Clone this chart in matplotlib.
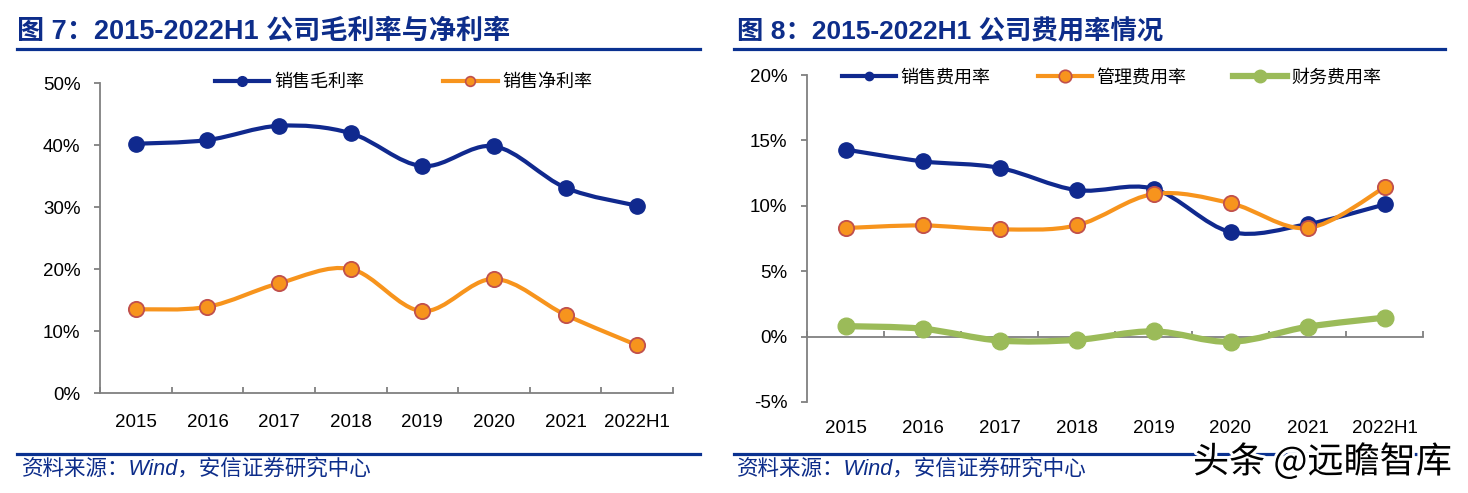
import numpy as np
import matplotlib
matplotlib.use("Agg")
import matplotlib.pyplot as plt
from matplotlib.path import Path
from matplotlib.patches import PathPatch
from matplotlib.lines import Line2D
import matplotlib.patheffects as pe

plt.rcParams['font.family'] = ['Liberation Sans', 'Noto Sans CJK SC', 'DejaVu Sans']

# ===== 数据 =====
years = ['2015', '2016', '2017', '2018', '2019', '2020', '2021', '2022H1']

gross_margin = [40.2, 40.8, 43.1, 41.9, 36.6, 39.8, 33.1, 30.2]   # 销售毛利率 %
net_margin = [13.5, 13.9, 17.7, 20.0, 13.2, 18.4, 12.6, 7.7]      # 销售净利率 %

sales_exp = [14.3, 13.4, 12.9, 11.2, 11.3, 8.0, 8.6, 10.1]        # 销售费用率 %
admin_exp = [8.3, 8.5, 8.2, 8.5, 10.9, 10.2, 8.3, 11.4]           # 管理费用率 %
fin_exp = [0.8, 0.6, -0.3, -0.25, 0.4, -0.4, 0.75, 1.45]          # 财务费用率 %

BLUE = '#10298e'
ORANGE = '#f7941d'
EDGE = '#c0504d'
GREEN = '#9bbb59'
GRAY = '#808080'
TITLE_BLUE = '#0d2d8a'
CJK = ['Noto Sans CJK SC']

W, H = 1468, 493
fig = plt.figure(figsize=(W / 100, H / 100), dpi=100)


def fbox(x0, y0, x1, y1):
    # pixel box -> figure fraction
    return [x0 / W, 1 - y1 / H, (x1 - x0) / W, (y1 - y0) / H]


def smooth_line(ax, x, y, color, lw):
    # curva suavizada tipo Excel (Bezier cúbica, tensión 1/6)
    x = np.asarray(x, float)
    y = np.asarray(y, float)
    n = len(x)
    verts = [(x[0], y[0])]
    codes = [Path.MOVETO]
    for i in range(n - 1):
        xp, yp = (x[i - 1], y[i - 1]) if i > 0 else (x[i], y[i])
        xn, yn = (x[i + 2], y[i + 2]) if i + 2 < n else (x[i + 1], y[i + 1])
        c1 = (x[i] + (x[i + 1] - xp) / 6, y[i] + (y[i + 1] - yp) / 6)
        c2 = (x[i + 1] - (xn - x[i]) / 6, y[i + 1] - (yn - y[i]) / 6)
        verts += [c1, c2, (x[i + 1], y[i + 1])]
        codes += [Path.CURVE4] * 3
    ax.add_patch(PathPatch(Path(verts, codes), fill=False, edgecolor=color,
                           lw=lw, capstyle='round', joinstyle='round', zorder=2))


def style_axes(ax, ylim, yticks):
    ax.set_xlim(-0.5, len(years) - 0.5)
    ax.set_ylim(*ylim)
    ax.set_yticks(yticks)
    ax.set_yticklabels([f'{t}%' for t in yticks])
    ax.spines['top'].set_visible(False)
    ax.spines['right'].set_visible(False)
    ax.spines['left'].set_color(GRAY)
    ax.spines['left'].set_linewidth(1.3)
    ax.tick_params(axis='y', length=4, color=GRAY, width=1.3, labelsize=13.5, pad=10)
    ax.set_xticks(range(len(years)))
    ax.set_xticklabels(years)
    ax.tick_params(axis='x', which='major', length=0, labelsize=13.5)


# ===== 图 7 =====
ax1 = fig.add_axes(fbox(100, 83, 673, 393))
style_axes(ax1, (0, 50), [0, 10, 20, 30, 40, 50])
ax1.spines['bottom'].set_color(GRAY)
ax1.spines['bottom'].set_linewidth(1.3)
ax1.set_xticks(np.arange(-0.5, len(years)), minor=True)
ax1.tick_params(axis='x', which='minor', direction='in', length=4, color=GRAY, width=1.3)
ax1.tick_params(axis='x', which='major', pad=15)

xi = np.arange(len(years))
smooth_line(ax1, xi, gross_margin, BLUE, 3)
ax1.plot(xi, gross_margin, 'o', color=BLUE, ms=11, zorder=3)
smooth_line(ax1, xi, net_margin, ORANGE, 3)
ax1.plot(xi, net_margin, 'o', color=ORANGE, mec=EDGE, mew=1.3, ms=11, zorder=3)

h1 = [Line2D([], [], color=BLUE, lw=3, marker='o', ms=7),
      Line2D([], [], color=ORANGE, lw=3, marker='o', ms=7, mec=EDGE, mew=1.2)]
ax1.legend(h1, ['销售毛利率', '销售净利率'], loc='upper center', bbox_to_anchor=(0.53, 1.085),
           ncol=2, frameon=False, handlelength=3.0, handletextpad=0.25,
           columnspacing=4.4, prop={'family': CJK, 'size': 13})

# ===== 图 8 =====
ax2 = fig.add_axes(fbox(807, 75, 1423, 402))
style_axes(ax2, (-5, 20), [-5, 0, 5, 10, 15, 20])
ax2.spines['bottom'].set_visible(False)
ax2.tick_params(axis='x', which='major', pad=13)
zero = ax2.secondary_xaxis(0.2)
zero.set_xticks(np.arange(-0.5, len(years)))
zero.set_xticklabels([])
zero.tick_params(direction='in', length=4, color=GRAY, width=1.3)
zero.spines['bottom'].set_color(GRAY)
zero.spines['bottom'].set_linewidth(1.3)

smooth_line(ax2, xi, sales_exp, BLUE, 3)
ax2.plot(xi, sales_exp, 'o', color=BLUE, ms=11, zorder=3)
smooth_line(ax2, xi, admin_exp, ORANGE, 3)
ax2.plot(xi, admin_exp, 'o', color=ORANGE, mec=EDGE, mew=1.3, ms=11, zorder=3)
smooth_line(ax2, xi, fin_exp, GREEN, 4.5)
ax2.plot(xi, fin_exp, 'o', color=GREEN, ms=12, zorder=3)

h2 = [Line2D([], [], color=BLUE, lw=3, marker='o', ms=6),
      Line2D([], [], color=ORANGE, lw=3, marker='o', ms=9, mec=EDGE, mew=1.2),
      Line2D([], [], color=GREEN, lw=4.5, marker='o', ms=9)]
ax2.legend(h2, ['销售费用率', '管理费用率', '财务费用率'], loc='upper center',
           bbox_to_anchor=(0.495, 1.07), ncol=3, frameon=False, handlelength=3.0,
           handletextpad=0.25, columnspacing=2.6,
           prop={'family': CJK, 'size': 13})

# ===== 标题、分隔线、来源 =====
tfam = ['Liberation Sans', 'Noto Sans CJK SC']
fig.text(17 / W, 1 - 32 / H, '图 7：2015-2022H1 公司毛利率与净利率', family=tfam,
         fontsize=19.5, fontweight='bold', color=TITLE_BLUE, va='center')
fig.text(737 / W, 1 - 32 / H, '图 8：2015-2022H1 公司费用率情况', family=tfam,
         fontsize=19, fontweight='bold', color=TITLE_BLUE, va='center')

for x0, x1 in [(17, 700), (734, 1445)]:
    for yy in (48.5, 453.5):
        fig.add_artist(Line2D([x0 / W, x1 / W], [1 - yy / H, 1 - yy / H],
                              color='#0a3190', lw=2.3))

for x0 in (22, 737):
    fig.text(x0 / W, 1 - 469 / H, '资料来源：Wind，安信证券研究中心', family=tfam,
             fontsize=15.5, style='italic', color=TITLE_BLUE, va='center')

fig.text(1452 / W, 1 - 462 / H, '头条 @远瞻智库', family=CJK,
         fontsize=26, color='black', ha='right', va='center',
         path_effects=[pe.withStroke(linewidth=4, foreground='white')])

fig.savefig('out.png', dpi=100)
